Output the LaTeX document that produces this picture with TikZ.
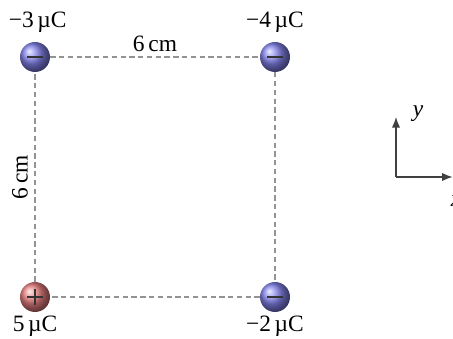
\documentclass[tikz,border=0pt]{standalone}
\usepackage{fontspec}
\setmainfont{Liberation Serif}
\usetikzlibrary{positioning,arrows.meta}

\definecolor{negblue}{RGB}{130,130,235}
\definecolor{posred}{RGB}{230,125,125}

\begin{document}
\begin{tikzpicture}[node distance=7.2cm, on grid, >={Latex[length=9pt,width=7pt]},
    font=\fontsize{20}{23}\selectfont,
    charge/.style={circle, minimum size=0.9cm, inner sep=0pt, shading=ball},
    negcharge/.style={charge, ball color=negblue},
    poscharge/.style={charge, ball color=posred},
    sign/.style={draw, black!80, line width=1pt},
    side/.style={draw, gray!85, dash pattern=on 4.5pt off 3pt, line width=0.9pt},
    axis/.style={draw, ->, black!75, line width=1pt}]

    \useasboundingbox (0,0) rectangle (13.59,10.17);

    % the four charges on the square
    \node [negcharge] (q1) at (1.05,8.46) {};
    \node [negcharge, right=of q1] (q2) {};
    \node [poscharge, below=of q1] (q3) {};
    \node [negcharge, right=of q3] (q4) {};

    \draw [side] (q1) -- node[above=0.02cm, text=black] (top) {6\,cm} (q2);
    \draw [side] (q2) -- (q4);
    \draw [side] (q4) -- (q3);
    \draw [side] (q3) -- node[left=0.45cm, rotate=90, anchor=center, text=black] (left) {6\,cm} (q1);

    % signs
    \draw [sign] ([xshift=-0.23cm]q1.center) -- ([xshift=0.23cm]q1.center);
    \draw [sign] ([xshift=-0.23cm]q2.center) -- ([xshift=0.23cm]q2.center);
    \draw [sign] ([xshift=-0.23cm]q4.center) -- ([xshift=0.23cm]q4.center);
    \draw [sign] ([xshift=-0.23cm]q3.center) -- ([xshift=0.23cm]q3.center);
    \draw [sign] ([yshift=-0.23cm]q3.center) -- ([yshift=0.23cm]q3.center);

    % values
    \node [above=1.05cm of q1, xshift=0.08cm] (v1) {−3\hspace{0.15em}µC};
    \node [above=1.05cm of q2] (v2) {−4\hspace{0.15em}µC};
    \node [below=0.87cm of q3] (v3) {5\hspace{0.15em}µC};
    \node [below=0.87cm of q4] (v4) {−2\hspace{0.15em}µC};

    % axes
    \coordinate (o) at (11.88,4.86);
    \coordinate [above=1.8cm of o] (ytip);
    \coordinate [right=1.70cm of o] (xtip);
    \draw [axis] (o) -- (ytip);
    \draw [axis] (o) -- (xtip);
    \node [right=0.38cm of ytip, yshift=0.1cm] (ylab) {\textit{y}};
    \node [below=0.45cm of xtip, xshift=0.1cm] (xlab) {\textit{x}};

\end{tikzpicture}
\end{document}
